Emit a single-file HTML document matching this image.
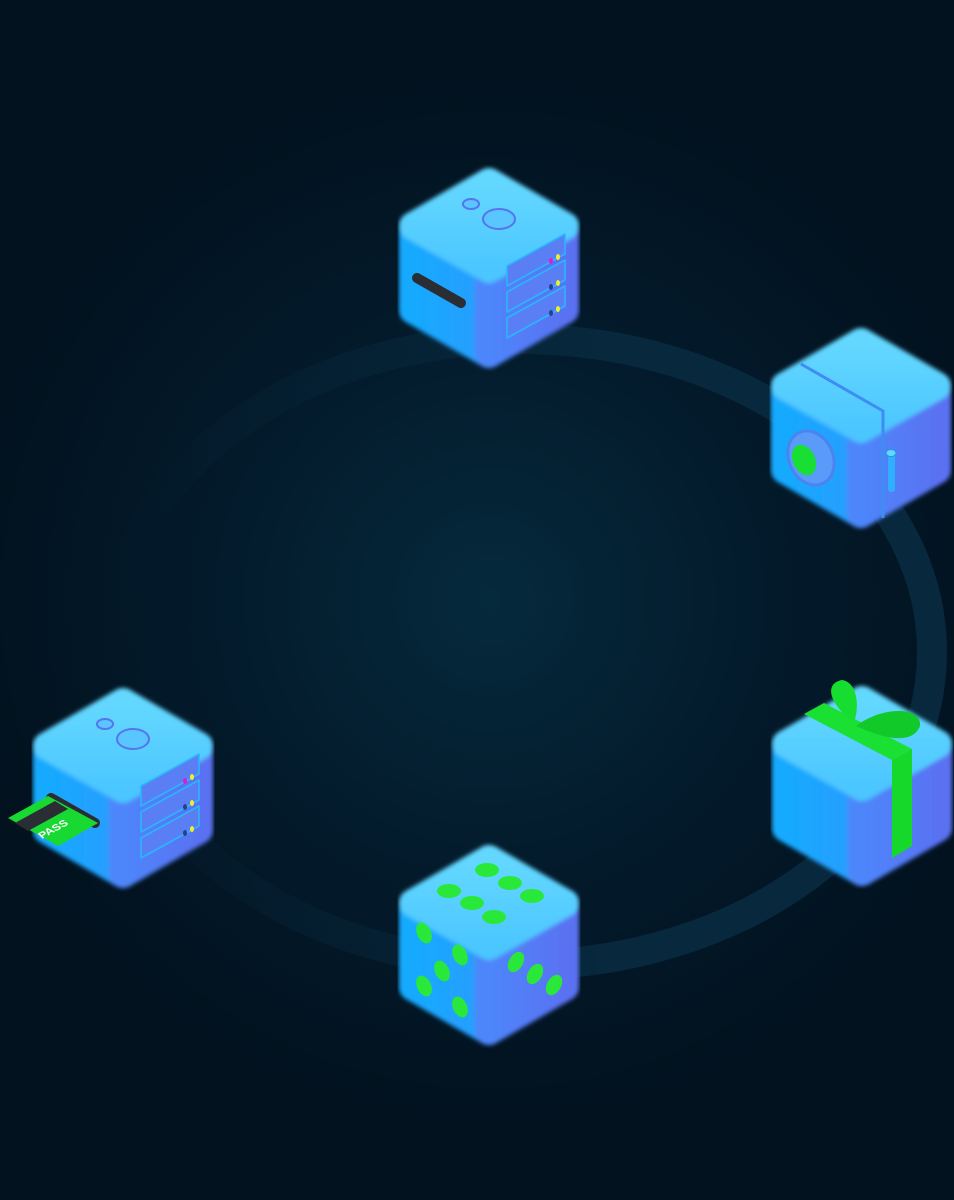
<!DOCTYPE html>
<html><head><meta charset="utf-8"><style>
html,body{margin:0;padding:0;background:#02111f;}
svg{display:block}
</style></head><body>
<svg width="954" height="1200" viewBox="0 0 954 1200" xmlns="http://www.w3.org/2000/svg">
<defs>
<radialGradient id="bg" cx="490" cy="600" r="520" gradientUnits="userSpaceOnUse">
<stop offset="0" stop-color="#052a3c"/><stop offset="0.55" stop-color="#031a2b"/><stop offset="1" stop-color="#02121f"/>
</radialGradient>
<linearGradient id="ring" x1="110" y1="0" x2="930" y2="0" gradientUnits="userSpaceOnUse">
<stop offset="0" stop-color="#07263a" stop-opacity="0"/><stop offset="0.3" stop-color="#07263a" stop-opacity="0.5"/><stop offset="0.6" stop-color="#07283d" stop-opacity="1"/><stop offset="1" stop-color="#07283d" stop-opacity="1"/>
</linearGradient>
<linearGradient id="ring2" x1="0" y1="330" x2="0" y2="980" gradientUnits="userSpaceOnUse">
<stop offset="0" stop-color="#000" stop-opacity="0"/><stop offset="1" stop-color="#000" stop-opacity="0"/>
</linearGradient>
<linearGradient id="lf" x1="0" y1="0" x2="1" y2="0"><stop offset="0" stop-color="#16aaff"/><stop offset="1" stop-color="#2a9cff"/></linearGradient>
<linearGradient id="rf" x1="0" y1="0" x2="1" y2="0"><stop offset="0" stop-color="#4d86fb"/><stop offset="1" stop-color="#5a72f2"/></linearGradient>
<linearGradient id="tf" x1="0" y1="0" x2="0" y2="1"><stop offset="0" stop-color="#64d8ff"/><stop offset="1" stop-color="#4cc6ff"/></linearGradient>
<filter id="soft"><feGaussianBlur stdDeviation="2"/></filter>
<g id="cube">
 <g filter="url(#soft)" stroke-linejoin="round" stroke-width="28">
 <polygon points="14,58 90,101 90,186 14,142" fill="url(#lf)" stroke="url(#lf)"/>
 <polygon points="90,101 166,58 166,142 90,186" fill="url(#rf)" stroke="url(#rf)"/>
 <polygon points="90,14 166,58 90,101 14,58" fill="url(#tf)" stroke="url(#tf)"/>
 </g>
</g>
<g id="server">
 <g fill="#5a7ef4" stroke="#2ab6ff" stroke-width="1.6" stroke-linejoin="round">
  <path d="M108,118 L108,98 L166,66 L166,86 Z"/>
  <path d="M108,144 L108,124 L166,92 L166,112 Z"/>
  <path d="M108,170 L108,150 L166,118 L166,138 Z"/>
 </g>
 <ellipse cx="152" cy="93" rx="2" ry="3" fill="#e21ad0"/><ellipse cx="159" cy="89" rx="2" ry="3" fill="#f2ee2a"/>
 <ellipse cx="152" cy="119" rx="2" ry="3" fill="#2a3f8a"/><ellipse cx="159" cy="115" rx="2" ry="3" fill="#f2ee2a"/>
 <ellipse cx="152" cy="145" rx="2" ry="3" fill="#2a3f8a"/><ellipse cx="159" cy="141" rx="2" ry="3" fill="#f2ee2a"/>
 <ellipse cx="100" cy="51" rx="16" ry="10" fill="#5ac6ff" stroke="#5574ef" stroke-width="2"/>
 <ellipse cx="72" cy="36" rx="8" ry="5" fill="#5ac6ff" stroke="#5574ef" stroke-width="2"/>
</g>
</defs>
<rect width="954" height="1200" fill="url(#bg)"/>
<ellipse cx="520" cy="652" rx="412" ry="313" fill="none" stroke="url(#ring)" stroke-width="30"/>

<!-- top server -->
<g transform="translate(399,168)">
 <use href="#cube"/><use href="#server"/>
 <line x1="18" y1="110" x2="62" y2="135" stroke="#2a2d33" stroke-width="10" stroke-linecap="round"/>
</g>

<!-- safe -->
<g transform="translate(771,328)">
 <use href="#cube"/>
 <path d="M30,36 L112,83 L112,190" fill="none" stroke="#3f8cf5" stroke-width="3"/>
 <ellipse cx="40" cy="130" rx="22" ry="28" fill="#5a9af8" stroke="#4a84f0" stroke-width="3" transform="rotate(-25 40 130)"/>
 <ellipse cx="33" cy="132" rx="11" ry="16" fill="#17e032" transform="rotate(-25 33 132)"/>
 <rect x="117" y="124" width="7" height="40" rx="3" fill="#2fb0ff"/>
 <ellipse cx="120" cy="125" rx="5" ry="3.5" fill="#62d8ff" stroke="#2a8fe8"/>
</g>

<!-- pass server -->
<g transform="translate(33,688)">
 <use href="#cube"/><use href="#server"/>
 <line x1="18" y1="110" x2="62" y2="135" stroke="#2a2d33" stroke-width="10" stroke-linecap="round"/>
 <polygon points="-25,130 15,108 65,135 25,158" fill="#18d832"/>
 <polygon points="-18,135 22,113 35,121 -5,143" fill="#2a2d33"/>
 <text x="0" y="0" transform="matrix(0.85,-0.47,0.6,0.6,9,151)" font-family="Liberation Sans, sans-serif" font-weight="bold" font-size="12" fill="#fff">PASS</text>
</g>

<!-- gift -->
<g transform="translate(772,686)">
 <use href="#cube"/>
 <polygon points="120,74 140,63 140,160 120,172" fill="#15d82a"/>
 <polygon points="32,28 52,17 140,63 120,74" fill="#1be034"/>
 <path d="M80,35 C60,20 50,-2 70,-6 C85,-4 88,20 82,36 Z" fill="#17dd30"/>
 <path d="M84,40 C110,20 150,20 148,40 C140,60 110,52 84,40 Z" fill="#12c92a"/>
</g>

<!-- dice -->
<g transform="translate(399,845)">
 <use href="#cube"/>
 <g fill="#2ae83a">
  <ellipse cx="88" cy="25" rx="12" ry="7"/>
  <ellipse cx="50" cy="46" rx="12" ry="7"/><ellipse cx="111" cy="38" rx="12" ry="7"/>
  <ellipse cx="73" cy="58" rx="12" ry="7"/><ellipse cx="133" cy="51" rx="12" ry="7"/>
  <ellipse cx="95" cy="72" rx="12" ry="7"/>
  <ellipse cx="25" cy="88" rx="7" ry="11" transform="rotate(-25 25 88)"/>
  <ellipse cx="61" cy="110" rx="7" ry="11" transform="rotate(-25 61 110)"/>
  <ellipse cx="43" cy="126" rx="7" ry="11" transform="rotate(-25 43 126)"/>
  <ellipse cx="25" cy="141" rx="7" ry="11" transform="rotate(-25 25 141)"/>
  <ellipse cx="61" cy="162" rx="7" ry="11" transform="rotate(-25 61 162)"/>
  <ellipse cx="117" cy="117" rx="7" ry="11" transform="rotate(30 117 117)"/>
  <ellipse cx="136" cy="129" rx="7" ry="11" transform="rotate(30 136 129)"/>
  <ellipse cx="155" cy="140" rx="7" ry="11" transform="rotate(30 155 140)"/>
 </g>
</g>
</svg>
</body></html>
